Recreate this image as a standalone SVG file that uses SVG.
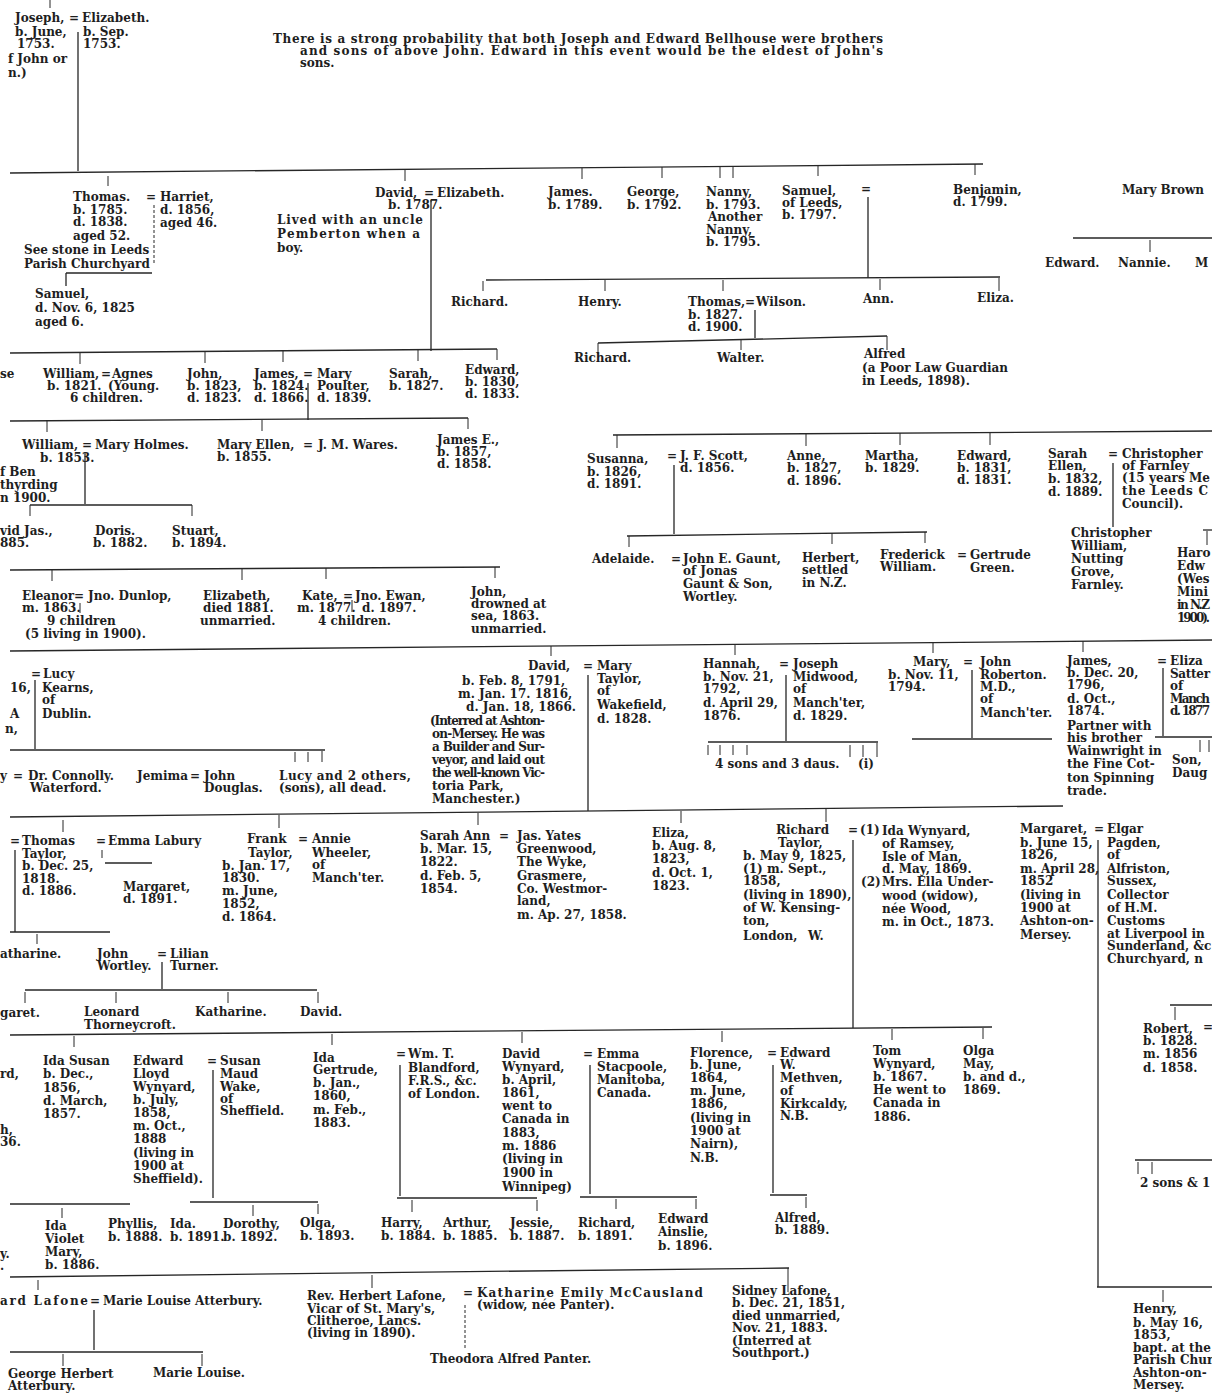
<svg xmlns="http://www.w3.org/2000/svg" width="1212" height="1393" viewBox="0 0 1212 1393">
<style>
text{font-family:"DejaVu Serif","Liberation Serif",serif;font-size:12px;font-weight:bold;fill:#1e1e1e}
#connectors line{stroke:#262626;stroke-width:1.3;fill:none}
#connectors line.k{stroke-width:1}
#connectors line.d{stroke-dasharray:3 2;stroke-width:1}
</style>
<rect width="1212" height="1393" fill="#fff"/>
<g id="connectors">
<line class="k" x1="50" y1="0" x2="50" y2="8"/>
<line x1="78" y1="32" x2="78" y2="171"/>
<line x1="10" y1="173" x2="983" y2="164"/>
<line class="k" x1="108" y1="176" x2="108" y2="186"/>
<line class="k" x1="405" y1="170" x2="405" y2="181"/>
<line class="k" x1="582" y1="168" x2="582" y2="179"/>
<line class="k" x1="662" y1="167" x2="662" y2="178"/>
<line class="k" x1="720" y1="167" x2="720" y2="178"/>
<line class="k" x1="733" y1="167" x2="733" y2="178"/>
<line class="k" x1="818" y1="166" x2="818" y2="176"/>
<line class="k" x1="975" y1="164" x2="975" y2="175"/>
<line class="d" x1="154" y1="205" x2="154" y2="265"/>
<line x1="66" y1="273" x2="152" y2="273"/>
<line x1="66" y1="273" x2="66" y2="286"/>
<line x1="431" y1="200" x2="431" y2="351"/>
<line x1="868" y1="197" x2="868" y2="278"/>
<line x1="486" y1="280" x2="1000" y2="277"/>
<line class="k" x1="483" y1="281" x2="483" y2="291"/>
<line class="k" x1="605" y1="280" x2="605" y2="291"/>
<line class="k" x1="723" y1="280" x2="723" y2="291"/>
<line class="k" x1="880" y1="279" x2="880" y2="290"/>
<line class="k" x1="999" y1="278" x2="999" y2="291"/>
<line x1="755" y1="310" x2="755" y2="338"/>
<line x1="598" y1="343" x2="887" y2="336"/>
<line class="k" x1="598" y1="343" x2="598" y2="354"/>
<line class="k" x1="741" y1="339" x2="741" y2="350"/>
<line class="k" x1="887" y1="336" x2="887" y2="350"/>
<line x1="1073" y1="238" x2="1212" y2="238"/>
<line class="k" x1="1150" y1="240" x2="1150" y2="252"/>
<line x1="10" y1="353" x2="497" y2="349"/>
<line class="k" x1="80" y1="353" x2="80" y2="364"/>
<line class="k" x1="205" y1="352" x2="205" y2="363"/>
<line class="k" x1="283" y1="351" x2="283" y2="362"/>
<line class="k" x1="418" y1="350" x2="418" y2="361"/>
<line class="k" x1="497" y1="349" x2="497" y2="360"/>
<line x1="308" y1="383" x2="308" y2="420"/>
<line x1="10" y1="421" x2="468" y2="418"/>
<line class="k" x1="47" y1="421" x2="47" y2="432"/>
<line class="k" x1="262" y1="420" x2="262" y2="431"/>
<line class="k" x1="468" y1="418" x2="468" y2="429"/>
<line x1="85" y1="452" x2="85" y2="504"/>
<line x1="30" y1="505" x2="192" y2="505"/>
<line class="k" x1="30" y1="505" x2="30" y2="516"/>
<line class="k" x1="192" y1="505" x2="192" y2="516"/>
<line x1="10" y1="570" x2="500" y2="567"/>
<line class="k" x1="52" y1="570" x2="52" y2="581"/>
<line class="k" x1="242" y1="569" x2="242" y2="580"/>
<line class="k" x1="326" y1="568" x2="326" y2="579"/>
<line class="k" x1="495" y1="567" x2="495" y2="578"/>
<line class="k" x1="80" y1="603" x2="80" y2="613"/>
<line class="k" x1="352" y1="600" x2="352" y2="612"/>
<line x1="613" y1="435" x2="1212" y2="431"/>
<line class="k" x1="617" y1="435" x2="617" y2="448"/>
<line class="k" x1="806" y1="434" x2="806" y2="446"/>
<line class="k" x1="900" y1="433" x2="900" y2="445"/>
<line class="k" x1="990" y1="433" x2="990" y2="445"/>
<line x1="674" y1="465" x2="674" y2="534"/>
<line x1="1113" y1="463" x2="1113" y2="527"/>
<line x1="627" y1="536" x2="927" y2="532"/>
<line class="k" x1="629" y1="536" x2="629" y2="547"/>
<line class="k" x1="832" y1="533" x2="832" y2="544"/>
<line class="k" x1="925" y1="532" x2="925" y2="543"/>
<line x1="1203" y1="530" x2="1212" y2="530"/>
<line class="k" x1="1207" y1="531" x2="1207" y2="545"/>
<line x1="10" y1="651" x2="1212" y2="640"/>
<line class="k" x1="551" y1="646" x2="551" y2="656"/>
<line class="k" x1="735" y1="644" x2="735" y2="655"/>
<line class="k" x1="933" y1="643" x2="933" y2="653"/>
<line class="k" x1="1083" y1="641" x2="1083" y2="652"/>
<line x1="35" y1="680" x2="35" y2="749"/>
<line x1="10" y1="750" x2="325" y2="750"/>
<line class="k" x1="295" y1="752" x2="295" y2="762"/>
<line class="k" x1="308" y1="752" x2="308" y2="762"/>
<line class="k" x1="322" y1="751" x2="322" y2="762"/>
<line x1="588" y1="675" x2="588" y2="811"/>
<line x1="786" y1="675" x2="786" y2="741"/>
<line x1="708" y1="742" x2="878" y2="742"/>
<line class="k" x1="708" y1="745" x2="708" y2="755"/>
<line class="k" x1="720" y1="745" x2="720" y2="755"/>
<line class="k" x1="733" y1="745" x2="733" y2="755"/>
<line class="k" x1="747" y1="745" x2="747" y2="755"/>
<line class="k" x1="850" y1="745" x2="850" y2="757"/>
<line class="k" x1="863" y1="745" x2="863" y2="757"/>
<line class="k" x1="877" y1="743" x2="877" y2="757"/>
<line x1="972" y1="670" x2="972" y2="738"/>
<line x1="912" y1="739" x2="1052" y2="739"/>
<line x1="1163" y1="668" x2="1163" y2="736"/>
<line x1="1155" y1="737" x2="1212" y2="737"/>
<line class="k" x1="1200" y1="740" x2="1200" y2="752"/>
<line class="k" x1="1209" y1="740" x2="1209" y2="752"/>
<line x1="10" y1="817" x2="1063" y2="806"/>
<line class="k" x1="63" y1="820" x2="63" y2="832"/>
<line class="k" x1="279" y1="815" x2="279" y2="828"/>
<line class="k" x1="478" y1="813" x2="478" y2="825"/>
<line class="k" x1="681" y1="811" x2="681" y2="823"/>
<line class="k" x1="826" y1="808" x2="826" y2="822"/>
<line x1="15" y1="850" x2="15" y2="932"/>
<line class="k" x1="102" y1="850" x2="102" y2="858"/>
<line x1="105" y1="863" x2="152" y2="863"/>
<line x1="10" y1="932" x2="110" y2="932"/>
<line class="k" x1="37" y1="934" x2="37" y2="944"/>
<line x1="162" y1="962" x2="162" y2="989"/>
<line x1="25" y1="990" x2="317" y2="990"/>
<line class="k" x1="25" y1="992" x2="25" y2="1003"/>
<line class="k" x1="116" y1="992" x2="116" y2="1003"/>
<line class="k" x1="228" y1="992" x2="228" y2="1003"/>
<line class="k" x1="318" y1="992" x2="318" y2="1003"/>
<line x1="853" y1="840" x2="853" y2="1028"/>
<line x1="1098" y1="840" x2="1098" y2="1287"/>
<line x1="1170" y1="1005" x2="1212" y2="1005"/>
<line class="k" x1="1175" y1="1007" x2="1175" y2="1020"/>
<line x1="10" y1="1035" x2="992" y2="1027"/>
<line class="k" x1="74" y1="1036" x2="74" y2="1047"/>
<line class="k" x1="332" y1="1034" x2="332" y2="1045"/>
<line class="k" x1="522" y1="1032" x2="522" y2="1043"/>
<line class="k" x1="722" y1="1031" x2="722" y2="1042"/>
<line class="k" x1="892" y1="1029" x2="892" y2="1040"/>
<line class="k" x1="983" y1="1028" x2="983" y2="1039"/>
<line x1="213" y1="1070" x2="213" y2="1198"/>
<line x1="400" y1="1065" x2="400" y2="1196"/>
<line x1="590" y1="1065" x2="590" y2="1194"/>
<line x1="773" y1="1065" x2="773" y2="1193"/>
<line x1="10" y1="1204" x2="130" y2="1204"/>
<line x1="190" y1="1202" x2="318" y2="1202"/>
<line x1="397" y1="1198" x2="537" y2="1198"/>
<line x1="580" y1="1197" x2="697" y2="1197"/>
<line x1="770" y1="1195" x2="807" y2="1195"/>
<line class="k" x1="62" y1="1208" x2="62" y2="1218"/>
<line class="k" x1="253" y1="1205" x2="253" y2="1216"/>
<line class="k" x1="318" y1="1204" x2="318" y2="1214"/>
<line class="k" x1="412" y1="1200" x2="412" y2="1212"/>
<line class="k" x1="537" y1="1200" x2="537" y2="1211"/>
<line class="k" x1="616" y1="1199" x2="616" y2="1209"/>
<line class="k" x1="696" y1="1199" x2="696" y2="1209"/>
<line class="k" x1="806" y1="1197" x2="806" y2="1208"/>
<line x1="1135" y1="1160" x2="1212" y2="1160"/>
<line class="k" x1="1138" y1="1162" x2="1138" y2="1174"/>
<line class="k" x1="1152" y1="1162" x2="1152" y2="1174"/>
<line x1="10" y1="1277" x2="789" y2="1268"/>
<line class="k" x1="38" y1="1280" x2="38" y2="1290"/>
<line class="k" x1="372" y1="1275" x2="372" y2="1288"/>
<line class="k" x1="788" y1="1268" x2="788" y2="1292"/>
<line x1="94" y1="1310" x2="94" y2="1350"/>
<line x1="10" y1="1352" x2="203" y2="1352"/>
<line class="k" x1="63" y1="1354" x2="63" y2="1366"/>
<line class="k" x1="202" y1="1354" x2="202" y2="1366"/>
<line class="d" x1="465" y1="1305" x2="465" y2="1350"/>
<line x1="1097" y1="1287" x2="1212" y2="1287"/>
<line class="k" x1="1163" y1="1290" x2="1163" y2="1302"/>
</g>

<g id="joseph-elizabeth"><text><tspan x="15" y="22">Joseph,</tspan><tspan x="69" y="22">=</tspan><tspan x="82" y="22">Elizabeth.</tspan><tspan x="15" y="36">b. June,</tspan><tspan x="83" y="36">b. Sep.</tspan><tspan x="17" y="48">1753.</tspan><tspan x="83" y="48">1753.</tspan><tspan x="8" y="63">f John or</tspan><tspan x="8" y="77">n.)</tspan></text></g>

<g id="note"><text x="273" y="43" textLength="610">There is a strong probability that both Joseph and Edward Bellhouse were brothers</text><text x="300" y="55" textLength="583">and sons of above John.  Edward in this event would be the eldest of John's</text><text x="300" y="67">sons.</text></g>

<g id="thomas-harriet"><text><tspan x="73" y="201">Thomas.</tspan><tspan x="73" y="214">b. 1785.</tspan><tspan x="73" y="226">d. 1838.</tspan><tspan x="73" y="240">aged 52.</tspan><tspan x="24" y="254">See stone in Leeds</tspan><tspan x="24" y="268">Parish Churchyard</tspan><tspan x="146" y="201">=</tspan><tspan x="160" y="201">Harriet,</tspan><tspan x="160" y="214">d. 1856,</tspan><tspan x="160" y="227">aged 46.</tspan></text></g>

<g id="samuel-1825"><text><tspan x="35" y="298">Samuel,</tspan><tspan x="35" y="312">d. Nov. 6, 1825</tspan><tspan x="35" y="326">aged 6.</tspan></text></g>

<g id="david-elizabeth"><text><tspan x="375" y="197">David,</tspan><tspan x="424" y="197">=</tspan><tspan x="437" y="197">Elizabeth.</tspan><tspan x="388" y="209">b. 1787.</tspan></text><text x="277" y="224" textLength="146">Lived with an uncle</text><text x="277" y="238" textLength="143">Pemberton  when a</text><text x="277" y="252">boy.</text></g>

<g id="james-1789"><text><tspan x="548" y="196">James.</tspan><tspan x="548" y="209">b. 1789.</tspan></text></g>
<g id="george"><text><tspan x="627" y="196">George,</tspan><tspan x="627" y="209">b. 1792.</tspan></text></g>
<g id="nanny"><text><tspan x="706" y="196">Nanny,</tspan><tspan x="706" y="209">b. 1793.</tspan><tspan x="708" y="221">Another</tspan><tspan x="706" y="234">Nanny,</tspan><tspan x="706" y="246">b. 1795.</tspan></text></g>
<g id="samuel-leeds"><text><tspan x="782" y="195">Samuel,</tspan><tspan x="782" y="207">of Leeds,</tspan><tspan x="782" y="219">b. 1797.</tspan><tspan x="861" y="193">=</tspan></text></g>
<g id="benjamin"><text><tspan x="953" y="194">Benjamin,</tspan><tspan x="953" y="206">d. 1799.</tspan></text></g>
<g id="mary-brown"><text x="1122" y="194">Mary Brown</text></g>
<g id="edward-nannie"><text><tspan x="1045" y="267">Edward.</tspan><tspan x="1118" y="267">Nannie.</tspan><tspan x="1195" y="267">M</tspan></text></g>

<g id="richard-1"><text x="451" y="306">Richard.</text></g>
<g id="henry-1"><text x="578" y="306">Henry.</text></g>
<g id="thomas-wilson"><text><tspan x="688" y="306">Thomas,</tspan><tspan x="745" y="306">=</tspan><tspan x="756" y="306">Wilson.</tspan><tspan x="688" y="319">b. 1827.</tspan><tspan x="688" y="331">d. 1900.</tspan></text></g>
<g id="ann"><text x="863" y="303">Ann.</text></g>
<g id="eliza-1"><text x="977" y="302">Eliza.</text></g>
<g id="richard-2"><text x="574" y="362">Richard.</text></g>
<g id="walter"><text x="717" y="362">Walter.</text></g>
<g id="alfred-1"><text><tspan x="864" y="358">Alfred</tspan><tspan x="862" y="372">(a Poor Law Guardian</tspan><tspan x="862" y="385">in Leeds, 1898).</tspan></text></g>

<g id="se"><text x="0" y="378">se</text></g>
<g id="william-agnes"><text><tspan x="43" y="378">William,</tspan><tspan x="101" y="378">=</tspan><tspan x="112" y="378">Agnes</tspan><tspan x="47" y="390">b. 1821.</tspan><tspan x="108" y="390">(Young.</tspan><tspan x="70" y="402">6 children.</tspan></text></g>
<g id="john-1823"><text><tspan x="187" y="378">John,</tspan><tspan x="187" y="390">b. 1823,</tspan><tspan x="187" y="402">d. 1823.</tspan></text></g>
<g id="james-mary"><text><tspan x="254" y="378">James,</tspan><tspan x="303" y="378">=</tspan><tspan x="317" y="378">Mary</tspan><tspan x="254" y="390">b. 1824.</tspan><tspan x="317" y="390">Poulter,</tspan><tspan x="254" y="402">d. 1866.</tspan><tspan x="317" y="402">d. 1839.</tspan></text></g>
<g id="sarah-1827"><text><tspan x="389" y="378">Sarah,</tspan><tspan x="389" y="390">b. 1827.</tspan></text></g>
<g id="edward-1830"><text><tspan x="465" y="374">Edward,</tspan><tspan x="465" y="386">b. 1830,</tspan><tspan x="465" y="398">d. 1833.</tspan></text></g>

<g id="william-maryholmes"><text><tspan x="22" y="449">William,</tspan><tspan x="82" y="449">=</tspan><tspan x="95" y="449">Mary Holmes.</tspan><tspan x="40" y="462">b. 1853.</tspan><tspan x="0" y="476">f Ben</tspan><tspan x="0" y="489">thyrding</tspan><tspan x="0" y="502">n 1900.</tspan></text></g>
<g id="maryellen-wares"><text><tspan x="217" y="449">Mary Ellen,</tspan><tspan x="303" y="449">=</tspan><tspan x="318" y="449">J. M. Wares.</tspan><tspan x="217" y="461">b. 1855.</tspan></text></g>
<g id="james-e"><text><tspan x="437" y="444">James E.,</tspan><tspan x="437" y="456">b. 1857,</tspan><tspan x="437" y="468">d. 1858.</tspan></text></g>
<g id="david-jas"><text><tspan x="0" y="535">vid Jas.,</tspan><tspan x="0" y="547">885.</tspan></text></g>
<g id="doris"><text><tspan x="95" y="535">Doris.</tspan><tspan x="93" y="547">b. 1882.</tspan></text></g>
<g id="stuart"><text><tspan x="172" y="535">Stuart,</tspan><tspan x="172" y="547">b. 1894.</tspan></text></g>

<g id="eleanor-dunlop"><text><tspan x="22" y="600">Eleanor</tspan><tspan x="74" y="600">=</tspan><tspan x="88" y="600">Jno. Dunlop,</tspan><tspan x="22" y="612">m. 1863.</tspan><tspan x="47" y="625">9 children</tspan><tspan x="25" y="638">(5 living in 1900).</tspan></text></g>
<g id="elizabeth-1881"><text><tspan x="203" y="600">Elizabeth,</tspan><tspan x="203" y="612">died 1881.</tspan><tspan x="200" y="625">unmarried.</tspan></text></g>
<g id="kate-ewan"><text><tspan x="302" y="600">Kate,</tspan><tspan x="343" y="600">=</tspan><tspan x="355" y="600">Jno. Ewan,</tspan><tspan x="297" y="612">m. 1877.</tspan><tspan x="362" y="612">d. 1897.</tspan><tspan x="318" y="625">4 children.</tspan></text></g>
<g id="john-drowned"><text><tspan x="471" y="596">John,</tspan><tspan x="471" y="608">drowned at</tspan><tspan x="471" y="620">sea, 1863.</tspan><tspan x="471" y="633">unmarried.</tspan></text></g>

<g id="susanna-scott"><text><tspan x="587" y="463">Susanna,</tspan><tspan x="587" y="476">b. 1826,</tspan><tspan x="587" y="488">d. 1891.</tspan><tspan x="667" y="460">=</tspan><tspan x="680" y="460">J. F. Scott,</tspan><tspan x="680" y="472">d. 1856.</tspan></text></g>
<g id="anne"><text><tspan x="787" y="460">Anne,</tspan><tspan x="787" y="472">b. 1827,</tspan><tspan x="787" y="485">d. 1896.</tspan></text></g>
<g id="martha"><text><tspan x="865" y="460">Martha,</tspan><tspan x="865" y="472">b. 1829.</tspan></text></g>
<g id="edward-1831"><text><tspan x="957" y="460">Edward,</tspan><tspan x="957" y="472">b. 1831,</tspan><tspan x="957" y="484">d. 1831.</tspan></text></g>
<g id="sarahellen-christopher"><text><tspan x="1048" y="458">Sarah</tspan><tspan x="1048" y="470">Ellen,</tspan><tspan x="1048" y="483">b. 1832,</tspan><tspan x="1048" y="496">d. 1889.</tspan><tspan x="1108" y="458">=</tspan><tspan x="1122" y="458">Christopher</tspan><tspan x="1122" y="470">of Farnley</tspan></text><text x="1122" y="482" textLength="88">(15 years Me</text><text x="1122" y="495" textLength="86">the Leeds C</text><text x="1122" y="508">Council).</text></g>
<g id="christopher-william"><text><tspan x="1071" y="537">Christopher</tspan><tspan x="1071" y="550">William,</tspan><tspan x="1071" y="563">Nutting</tspan><tspan x="1071" y="576">Grove,</tspan><tspan x="1071" y="589">Farnley.</tspan></text></g>
<g id="harold"><text><tspan x="1177" y="557">Haro</tspan><tspan x="1177" y="570">Edw</tspan><tspan x="1177" y="583">(Wes</tspan><tspan x="1177" y="596">Mini</tspan></text><text x="1177" y="609" textLength="33">in N.Z</text><text x="1177" y="622" textLength="33">1900).</text></g>
<g id="adelaide-gaunt"><text><tspan x="592" y="563">Adelaide.</tspan><tspan x="671" y="563">=</tspan><tspan x="683" y="563">John E. Gaunt,</tspan><tspan x="683" y="575">of Jonas</tspan><tspan x="683" y="588">Gaunt &amp; Son,</tspan><tspan x="683" y="601">Wortley.</tspan></text></g>
<g id="herbert-nz"><text><tspan x="802" y="562">Herbert,</tspan><tspan x="802" y="574">settled</tspan><tspan x="802" y="587">in N.Z.</tspan></text></g>
<g id="frederick-gertrude"><text><tspan x="880" y="559">Frederick</tspan><tspan x="957" y="559">=</tspan><tspan x="970" y="559">Gertrude</tspan><tspan x="880" y="571">William.</tspan><tspan x="970" y="572">Green.</tspan></text></g>

<g id="lucy-kearns"><text><tspan x="31" y="678">=</tspan><tspan x="43" y="678">Lucy</tspan><tspan x="10" y="692">16,</tspan><tspan x="42" y="692">Kearns,</tspan><tspan x="42" y="704">of</tspan><tspan x="10" y="718">A</tspan><tspan x="42" y="718">Dublin.</tspan><tspan x="5" y="733">n,</tspan></text></g>
<g id="connolly"><text><tspan x="0" y="780">y</tspan><tspan x="13" y="780">=</tspan><tspan x="28" y="780">Dr. Connolly.</tspan><tspan x="30" y="792">Waterford.</tspan></text></g>
<g id="jemima-douglas"><text><tspan x="137" y="780">Jemima</tspan><tspan x="190" y="780">=</tspan><tspan x="204" y="780">John</tspan><tspan x="204" y="792">Douglas.</tspan></text></g>
<g id="lucy-others"><text x="279" y="780" textLength="132">Lucy and 2 others,</text><text x="279" y="792">(sons), all dead.</text></g>

<g id="david-mary"><text><tspan x="528" y="670">David,</tspan><tspan x="583" y="670">=</tspan><tspan x="597" y="670">Mary</tspan><tspan x="462" y="685">b. Feb. 8, 1791,</tspan><tspan x="458" y="698">m. Jan. 17. 1816,</tspan><tspan x="466" y="711">d. Jan. 18, 1866.</tspan><tspan x="597" y="683">Taylor,</tspan><tspan x="597" y="695">of</tspan><tspan x="597" y="709">Wakefield,</tspan><tspan x="597" y="723">d. 1828.</tspan></text>
<text x="430" y="725" textLength="115" lengthAdjust="spacing">(Interred at Ashton-</text>
<text x="432" y="738" textLength="113" lengthAdjust="spacing">on-Mersey.  He was</text>
<text x="432" y="751" textLength="113" lengthAdjust="spacing">a Builder and Sur-</text>
<text x="432" y="764" textLength="113" lengthAdjust="spacing">veyor, and laid out</text>
<text x="432" y="777" textLength="113" lengthAdjust="spacing">the well-known Vic-</text>
<text><tspan x="432" y="790">toria Park,</tspan><tspan x="432" y="803">Manchester.)</tspan></text></g>

<g id="hannah-joseph"><text><tspan x="703" y="668">Hannah,</tspan><tspan x="779" y="668">=</tspan><tspan x="793" y="668">Joseph</tspan><tspan x="703" y="681">b. Nov. 21,</tspan><tspan x="703" y="693">1792,</tspan><tspan x="703" y="707">d. April 29,</tspan><tspan x="703" y="720">1876.</tspan><tspan x="793" y="681">Midwood,</tspan><tspan x="793" y="693">of</tspan><tspan x="793" y="707">Manch'ter,</tspan><tspan x="793" y="720">d. 1829.</tspan></text></g>
<g id="sons-daus"><text><tspan x="715" y="768">4 sons and 3 daus.</tspan><tspan x="858" y="768">(i)</tspan></text></g>
<g id="mary-roberton"><text><tspan x="913" y="666">Mary,</tspan><tspan x="963" y="666">=</tspan><tspan x="980" y="666">John</tspan><tspan x="888" y="679">b. Nov. 11,</tspan><tspan x="888" y="691">1794.</tspan><tspan x="980" y="679">Roberton.</tspan><tspan x="980" y="691">M.D.,</tspan><tspan x="980" y="703">of</tspan><tspan x="980" y="717">Manch'ter.</tspan></text></g>
<g id="james-eliza"><text><tspan x="1067" y="665">James,</tspan><tspan x="1067" y="677">b. Dec. 20,</tspan><tspan x="1067" y="689">1796,</tspan><tspan x="1067" y="703">d. Oct.,</tspan><tspan x="1067" y="715">1874.</tspan><tspan x="1067" y="730">Partner with</tspan><tspan x="1067" y="742">his brother</tspan><tspan x="1067" y="755">Wainwright in</tspan><tspan x="1067" y="768">the Fine Cot-</tspan><tspan x="1067" y="782">ton Spinning</tspan><tspan x="1067" y="795">trade.</tspan><tspan x="1157" y="665">=</tspan><tspan x="1170" y="665">Eliza</tspan><tspan x="1170" y="690">of</tspan></text><text x="1170" y="678" textLength="40">Satter</text><text x="1170" y="703" textLength="40">Manch</text><text x="1170" y="715" textLength="40">d. 1877</text></g>
<g id="son-daug"><text><tspan x="1172" y="764">Son,</tspan><tspan x="1172" y="777">Daug</tspan></text></g>

<g id="thomas-taylor"><text><tspan x="10" y="845">=</tspan><tspan x="22" y="845">Thomas</tspan><tspan x="22" y="858">Taylor,</tspan><tspan x="22" y="870">b. Dec. 25,</tspan><tspan x="22" y="883">1818.</tspan><tspan x="22" y="895">d. 1886.</tspan></text></g>
<g id="emma-labury"><text><tspan x="96" y="845">=</tspan><tspan x="108" y="845">Emma Labury</tspan></text></g>
<g id="margaret-1891"><text fill="#555"><tspan x="123" y="891">Margaret,</tspan><tspan x="123" y="903">d. 1891.</tspan></text></g>
<g id="frank-annie"><text><tspan x="247" y="843">Frank</tspan><tspan x="298" y="843">=</tspan><tspan x="312" y="843">Annie</tspan><tspan x="248" y="857">Taylor,</tspan><tspan x="312" y="857">Wheeler,</tspan><tspan x="222" y="870">b. Jan. 17,</tspan><tspan x="312" y="869">of</tspan><tspan x="222" y="882">1830.</tspan><tspan x="312" y="882">Manch'ter.</tspan><tspan x="222" y="895">m. June,</tspan><tspan x="222" y="908">1852,</tspan><tspan x="222" y="921">d. 1864.</tspan></text></g>
<g id="katharine-1"><text x="0" y="958">atharine.</text></g>
<g id="john-lilian"><text><tspan x="97" y="958">John</tspan><tspan x="157" y="958">=</tspan><tspan x="170" y="958">Lilian</tspan><tspan x="97" y="970">Wortley.</tspan><tspan x="170" y="970">Turner.</tspan></text></g>
<g id="margaret-2"><text x="0" y="1017">garet.</text></g>
<g id="leonard"><text><tspan x="84" y="1016">Leonard</tspan><tspan x="84" y="1029">Thorneycroft.</tspan></text></g>
<g id="katharine-2"><text x="195" y="1016">Katharine.</text></g>
<g id="david-2"><text x="300" y="1016">David.</text></g>

<g id="sarahann-greenwood"><text><tspan x="420" y="840">Sarah Ann</tspan><tspan x="499" y="840">=</tspan><tspan x="517" y="840">Jas. Yates</tspan><tspan x="420" y="853">b. Mar. 15,</tspan><tspan x="420" y="866">1822.</tspan><tspan x="420" y="880">d. Feb. 5,</tspan><tspan x="420" y="893">1854.</tspan><tspan x="517" y="853">Greenwood,</tspan><tspan x="517" y="866">The Wyke,</tspan><tspan x="517" y="880">Grasmere,</tspan><tspan x="517" y="893">Co. Westmor-</tspan><tspan x="517" y="905">land,</tspan><tspan x="517" y="919">m. Ap. 27, 1858.</tspan></text></g>
<g id="eliza-2"><text><tspan x="652" y="837">Eliza,</tspan><tspan x="652" y="850">b. Aug. 8,</tspan><tspan x="652" y="863">1823,</tspan><tspan x="652" y="877">d. Oct. 1,</tspan><tspan x="652" y="890">1823.</tspan></text></g>
<g id="richard-taylor"><text><tspan x="776" y="834">Richard</tspan><tspan x="848" y="834">=</tspan><tspan x="860" y="834">(1)</tspan><tspan x="882" y="835">Ida Wynyard,</tspan><tspan x="778" y="847">Taylor,</tspan><tspan x="743" y="860">b. May 9, 1825,</tspan><tspan x="743" y="873">(1) m. Sept.,</tspan><tspan x="743" y="885">1858,</tspan><tspan x="743" y="899">(living in 1890),</tspan><tspan x="743" y="912">of W. Kensing-</tspan><tspan x="743" y="925">ton,</tspan><tspan x="743" y="940">London,</tspan><tspan x="808" y="940">W.</tspan><tspan x="882" y="848">of Ramsey,</tspan><tspan x="882" y="861">Isle of Man,</tspan><tspan x="882" y="873">d. May, 1869.</tspan><tspan x="861" y="886">(2)</tspan><tspan x="882" y="886">Mrs. Ella Under-</tspan><tspan x="882" y="900">wood (widow),</tspan><tspan x="882" y="913">née Wood,</tspan><tspan x="882" y="926">m. in Oct., 1873.</tspan></text></g>
<g id="margaret-elgar"><text><tspan x="1020" y="833">Margaret,</tspan><tspan x="1094" y="833">=</tspan><tspan x="1107" y="833">Elgar</tspan><tspan x="1020" y="847">b. June 15,</tspan><tspan x="1020" y="859">1826,</tspan><tspan x="1020" y="873">m. April 28,</tspan><tspan x="1020" y="885">1852</tspan><tspan x="1020" y="899">(living in</tspan><tspan x="1020" y="912">1900 at</tspan><tspan x="1020" y="925">Ashton-on-</tspan><tspan x="1020" y="939">Mersey.</tspan><tspan x="1107" y="847">Pagden,</tspan><tspan x="1107" y="859">of</tspan><tspan x="1107" y="873">Alfriston,</tspan><tspan x="1107" y="885">Sussex,</tspan><tspan x="1107" y="899">Collector</tspan><tspan x="1107" y="912">of H.M.</tspan><tspan x="1107" y="925">Customs</tspan><tspan x="1107" y="938">at Liverpool in</tspan><tspan x="1107" y="950">Sunderland, &amp;c</tspan><tspan x="1107" y="963">Churchyard, n</tspan></text></g>
<g id="robert"><text><tspan x="1143" y="1033">Robert,</tspan><tspan x="1203" y="1031">=</tspan><tspan x="1143" y="1045">b. 1828.</tspan><tspan x="1143" y="1058">m. 1856</tspan><tspan x="1143" y="1072">d. 1858.</tspan></text></g>
<g id="two-sons"><text x="1140" y="1187">2 sons &amp; 1</text></g>

<g id="left-cut"><text><tspan x="0" y="1078">rd,</tspan><tspan x="0" y="1134">h,</tspan><tspan x="0" y="1146">36.</tspan></text></g>
<g id="ida-susan"><text><tspan x="43" y="1065">Ida Susan</tspan><tspan x="43" y="1078">b. Dec.,</tspan><tspan x="43" y="1092">1856,</tspan><tspan x="43" y="1105">d. March,</tspan><tspan x="43" y="1118">1857.</tspan></text></g>
<g id="edward-lloyd-susan"><text><tspan x="133" y="1065">Edward</tspan><tspan x="133" y="1078">Lloyd</tspan><tspan x="133" y="1091">Wynyard,</tspan><tspan x="133" y="1104">b. July,</tspan><tspan x="133" y="1117">1858,</tspan><tspan x="133" y="1130">m. Oct.,</tspan><tspan x="133" y="1143">1888</tspan><tspan x="133" y="1157">(living in</tspan><tspan x="133" y="1170">1900 at</tspan><tspan x="133" y="1183">Sheffield).</tspan><tspan x="207" y="1065">=</tspan><tspan x="220" y="1065">Susan</tspan><tspan x="220" y="1078">Maud</tspan><tspan x="220" y="1091">Wake,</tspan><tspan x="220" y="1103">of</tspan><tspan x="220" y="1115">Sheffield.</tspan></text></g>
<g id="ida-gertrude-blandford"><text><tspan x="313" y="1062">Ida</tspan><tspan x="313" y="1074">Gertrude,</tspan><tspan x="313" y="1087">b. Jan.,</tspan><tspan x="313" y="1100">1860,</tspan><tspan x="313" y="1114">m. Feb.,</tspan><tspan x="313" y="1127">1883.</tspan><tspan x="396" y="1058">=</tspan><tspan x="408" y="1058">Wm. T.</tspan><tspan x="408" y="1072">Blandford,</tspan><tspan x="408" y="1085">F.R.S., &amp;c.</tspan><tspan x="408" y="1098">of London.</tspan></text></g>
<g id="david-wynyard-emma"><text><tspan x="502" y="1058">David</tspan><tspan x="502" y="1071">Wynyard,</tspan><tspan x="502" y="1084">b. April,</tspan><tspan x="502" y="1097">1861,</tspan><tspan x="502" y="1110">went to</tspan><tspan x="502" y="1123">Canada in</tspan><tspan x="502" y="1137">1883,</tspan><tspan x="502" y="1150">m. 1886</tspan><tspan x="502" y="1163">(living in</tspan><tspan x="502" y="1177">1900 in</tspan><tspan x="502" y="1191">Winnipeg)</tspan><tspan x="583" y="1058">=</tspan><tspan x="597" y="1058">Emma</tspan><tspan x="597" y="1071">Stacpoole,</tspan><tspan x="597" y="1084">Manitoba,</tspan><tspan x="597" y="1097">Canada.</tspan></text></g>
<g id="florence-methven"><text><tspan x="690" y="1057">Florence,</tspan><tspan x="690" y="1069">b. June,</tspan><tspan x="690" y="1082">1864,</tspan><tspan x="690" y="1095">m. June,</tspan><tspan x="690" y="1108">1886,</tspan><tspan x="690" y="1122">(living in</tspan><tspan x="690" y="1135">1900 at</tspan><tspan x="690" y="1148">Nairn),</tspan><tspan x="690" y="1162">N.B.</tspan><tspan x="767" y="1057">=</tspan><tspan x="780" y="1057">Edward</tspan><tspan x="780" y="1069">W.</tspan><tspan x="780" y="1082">Methven,</tspan><tspan x="780" y="1095">of</tspan><tspan x="780" y="1108">Kirkcaldy,</tspan><tspan x="780" y="1120">N.B.</tspan></text></g>
<g id="tom-wynyard"><text><tspan x="873" y="1055">Tom</tspan><tspan x="873" y="1068">Wynyard,</tspan><tspan x="873" y="1081">b. 1867.</tspan><tspan x="873" y="1094">He went to</tspan><tspan x="873" y="1107">Canada in</tspan><tspan x="873" y="1121">1886.</tspan></text></g>
<g id="olga-may"><text><tspan x="963" y="1055">Olga</tspan><tspan x="963" y="1068">May,</tspan><tspan x="963" y="1081">b. and d.,</tspan><tspan x="963" y="1094">1869.</tspan></text></g>

<g id="ida-violet"><text><tspan x="45" y="1230">Ida</tspan><tspan x="45" y="1243">Violet</tspan><tspan x="45" y="1256">Mary,</tspan><tspan x="45" y="1269">b. 1886.</tspan><tspan x="0" y="1258">y.</tspan><tspan x="0" y="1270">.</tspan></text></g>
<g id="phyllis"><text><tspan x="108" y="1228">Phyllis,</tspan><tspan x="108" y="1241">b. 1888.</tspan></text></g>
<g id="ida-1891"><text><tspan x="170" y="1228">Ida.</tspan><tspan x="170" y="1241">b. 1891.</tspan></text></g>
<g id="dorothy"><text><tspan x="223" y="1228">Dorothy,</tspan><tspan x="223" y="1241">b. 1892.</tspan></text></g>
<g id="olga-1893"><text><tspan x="300" y="1227">Olga,</tspan><tspan x="300" y="1240">b. 1893.</tspan></text></g>
<g id="harry"><text><tspan x="381" y="1227">Harry,</tspan><tspan x="381" y="1240">b. 1884.</tspan></text></g>
<g id="arthur"><text><tspan x="443" y="1227">Arthur,</tspan><tspan x="443" y="1240">b. 1885.</tspan></text></g>
<g id="jessie"><text><tspan x="510" y="1227">Jessie,</tspan><tspan x="510" y="1240">b. 1887.</tspan></text></g>
<g id="richard-1891"><text><tspan x="578" y="1227">Richard,</tspan><tspan x="578" y="1240">b. 1891.</tspan></text></g>
<g id="edward-ainslie"><text><tspan x="658" y="1223">Edward</tspan><tspan x="658" y="1236">Ainslie,</tspan><tspan x="658" y="1250">b. 1896.</tspan></text></g>
<g id="alfred-1889"><text><tspan x="775" y="1222">Alfred,</tspan><tspan x="775" y="1234">b. 1889.</tspan></text></g>

<g id="lafone-atterbury"><text x="0" y="1305" textLength="88">ard Lafone</text><text><tspan x="90" y="1305">=</tspan><tspan x="103" y="1305">Marie Louise Atterbury.</tspan></text></g>
<g id="george-herbert"><text><tspan x="8" y="1378">George Herbert</tspan><tspan x="8" y="1390">Atterbury.</tspan></text></g>
<g id="marie-louise"><text x="153" y="1377">Marie Louise.</text></g>
<g id="herbert-katharine"><text><tspan x="307" y="1300">Rev. Herbert Lafone,</tspan><tspan x="307" y="1313">Vicar of St. Mary's,</tspan><tspan x="307" y="1325">Clitheroe, Lancs.</tspan><tspan x="307" y="1337">(living in 1890).</tspan><tspan x="463" y="1297">=</tspan><tspan x="477" y="1309">(widow, née Panter).</tspan></text><text x="477" y="1297" textLength="226">Katharine Emily McCausland</text></g>
<g id="theodora"><text x="430" y="1363">Theodora Alfred Panter.</text></g>
<g id="sidney-lafone"><text><tspan x="732" y="1295">Sidney Lafone,</tspan><tspan x="732" y="1307">b. Dec. 21, 1851,</tspan><tspan x="732" y="1320">died unmarried,</tspan><tspan x="732" y="1332">Nov. 21, 1883.</tspan><tspan x="732" y="1345">(Interred at</tspan><tspan x="732" y="1357">Southport.)</tspan></text></g>
<g id="henry-1853"><text><tspan x="1133" y="1313">Henry,</tspan><tspan x="1133" y="1327">b. May 16,</tspan><tspan x="1133" y="1339">1853,</tspan><tspan x="1133" y="1352">bapt. at the</tspan><tspan x="1133" y="1364">Parish Chur</tspan><tspan x="1133" y="1377">Ashton-on-</tspan><tspan x="1133" y="1389">Mersey.</tspan></text></g>
</svg>
